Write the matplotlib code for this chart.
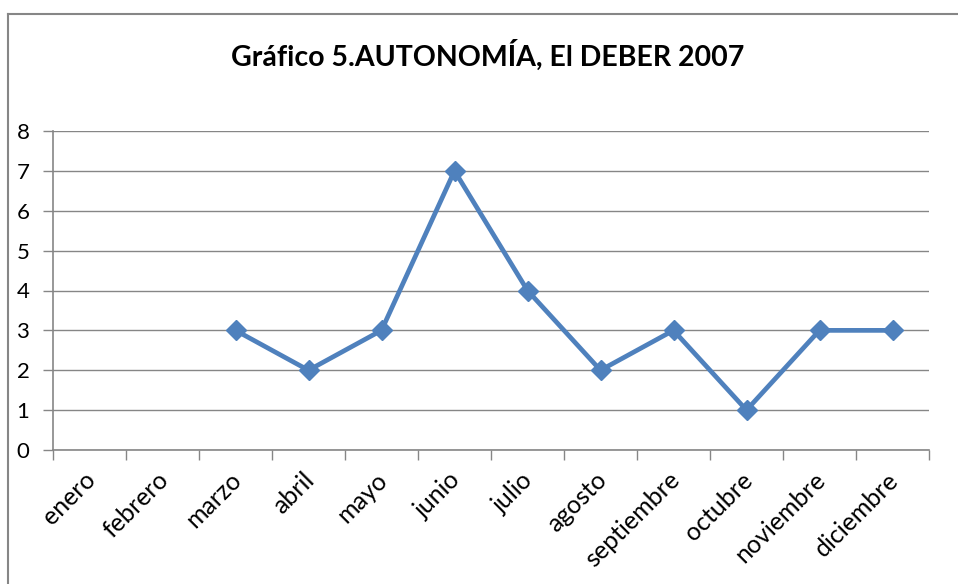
import numpy as np
import matplotlib.pyplot as plt
import matplotlib.transforms as mtransforms
from matplotlib.lines import Line2D

# Chart data (enero and febrero have no value)
meses = ["enero", "febrero", "marzo", "abril", "mayo", "junio",
         "julio", "agosto", "septiembre", "octubre", "noviembre", "diciembre"]
valores = [np.nan, np.nan, 3, 2, 3, 7, 4, 2, 3, 1, 3, 3]
y_ticks = [0, 1, 2, 3, 4, 5, 6, 7, 8]
titulo = "Gráfico 5.AUTONOMÍA, El DEBER 2007"

plt.rcParams['font.family'] = ['Lato', 'DejaVu Sans']

W, H = 958, 584
fig = plt.figure(figsize=(W / 100, H / 100), dpi=100)

# outer chart border (only top and left are visible)
gray = '#868686'
fig.add_artist(Line2D([8 / W, 8 / W], [0, 1 - 14 / H], transform=fig.transFigure,
                      color=gray, lw=1.5))
fig.add_artist(Line2D([8 / W, 1], [1 - 14 / H, 1 - 14 / H], transform=fig.transFigure,
                      color=gray, lw=1.5))

left, right = 53 / W, 929 / W
bottom, top = 1 - 450 / H, 1 - 131 / H
ax = fig.add_axes([left, bottom, right - left, top - bottom])

x = np.arange(len(meses))
ax.plot(x, valores, color='#4F81BD', lw=3.4, marker='D', markersize=10,
        markerfacecolor='#4F81BD', markeredgecolor='#4F81BD', zorder=3)

ax.set_xlim(-0.5, len(meses) - 0.5)
ax.set_ylim(0, 8)
ax.set_yticks(y_ticks)
ax.set_yticklabels([str(v) for v in y_ticks], fontsize=16)
ax.grid(axis='y', color=gray, lw=1)
ax.set_axisbelow(True)

# category ticks sit between categories, labels at centers
ax.set_xticks(np.arange(-0.5, len(meses), 1))
ax.set_xticklabels([])
ax.set_xticks(x, minor=True)
ax.set_xticklabels(meses, minor=True, rotation=45, ha='right', va='top',
                   rotation_mode='anchor', fontsize=18)
ax.tick_params(axis='x', which='minor', length=0, pad=13)
ax.tick_params(axis='x', which='major', length=7, color=gray, width=1)
ax.tick_params(axis='y', length=7, color=gray, width=1, pad=10)

# nudge the rotated labels a little to the left
shift = mtransforms.ScaledTranslation(-6 / 100, 0, fig.dpi_scale_trans)
for lbl in ax.get_xticklabels(minor=True):
    lbl.set_transform(lbl.get_transform() + shift)

for s in ['top', 'right']:
    ax.spines[s].set_visible(False)
for s in ['left', 'bottom']:
    ax.spines[s].set_color(gray)
    ax.spines[s].set_linewidth(1.2)

fig.text(488 / W, 1 - 55 / H, titulo, ha='center', va='center',
         fontsize=20.5, fontweight='bold')

fig.savefig('out.png', dpi=100)
